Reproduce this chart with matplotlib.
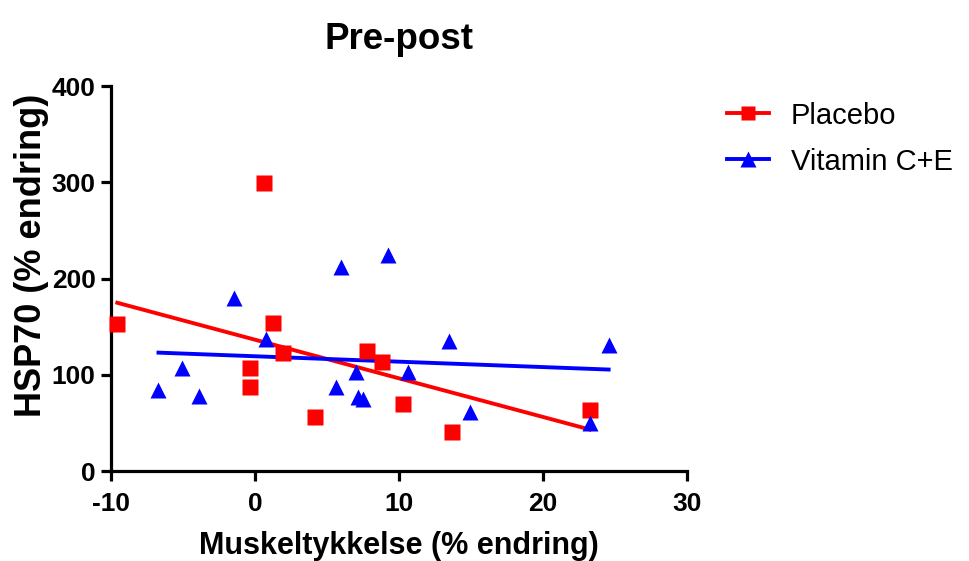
import numpy as np
import matplotlib
matplotlib.use("Agg")
from matplotlib import pyplot as plt
from matplotlib.lines import Line2D

plt.rcParams['font.family'] = ['Liberation Sans', 'DejaVu Sans']
plt.rcParams['axes.unicode_minus'] = False

# Placebo (red squares)
placebo_x = [-9.56, 0.6, 1.25, 1.97, -0.35, -0.35, 4.2, 7.78, 8.8, 10.25, 13.66, 23.24]
placebo_y = [152.4, 299, 154, 122.6, 107, 87.6, 56, 125, 113.6, 69.3, 40.2, 63.7]

# Vitamin C+E (blue triangles)
vit_x = [-6.7, -5.1, -3.87, -1.46, 0.74, 5.6, 7.0, 7.18, 7.48, 9.26, 6.0, 10.6, 13.47, 14.9, 23.24, 24.56]
vit_y = [84, 107, 78, 180, 136.8, 87, 103, 77, 74.5, 224.4, 212, 102.5, 135.4, 61.3, 50.2, 131]

x_ticks = [-10, 0, 10, 20, 30]
y_ticks = [0, 100, 200, 300, 400]

RED = '#FF0000'
BLUE = '#0000FF'

fig = plt.figure(figsize=(9.7, 5.61), dpi=100)
ax = fig.add_axes([0.1144, 0.1604, 0.5938, 0.6863])


def fit_line(xs, ys):
    # lineær regresjon over datapunktenes x-område
    xs = np.array(xs)
    ys = np.array(ys)
    k, m = np.polyfit(xs, ys, 1)
    xx = np.array([xs.min(), xs.max()])
    return xx, k * xx + m


px, py = fit_line(placebo_x, placebo_y)
vx, vy = fit_line(vit_x, vit_y)
ax.plot(px, py, color=RED, lw=2.8, zorder=2)
ax.plot(vx, vy, color=BLUE, lw=2.8, zorder=2)

ax.plot(placebo_x, placebo_y, 's', color=RED, ms=11.5, mec='none', zorder=3, clip_on=False)
ax.plot(vit_x, vit_y, '^', color=BLUE, ms=12, mec='none', zorder=3, clip_on=False)

ax.set_xlim(-10, 30)
ax.set_ylim(0, 400)
ax.set_xticks(x_ticks)
ax.set_yticks(y_ticks)

for s in ['top', 'right']:
    ax.spines[s].set_visible(False)
for s in ['left', 'bottom']:
    ax.spines[s].set_linewidth(2.3)
ax.tick_params(width=2.3, length=7, labelsize=19)
ax.tick_params(axis='x', pad=8)
ax.tick_params(axis='y', pad=4)
for lbl in ax.get_xticklabels() + ax.get_yticklabels():
    lbl.set_fontweight('bold')

ax.set_title('Pre-post', fontsize=26.5, fontweight='bold', pad=27)
ax.set_xlabel('Muskeltykkelse (% endring)', fontsize=22, fontweight='bold', labelpad=11)
ax.set_ylabel('HSP70 (% endring)', fontsize=26, fontweight='bold')
ax.yaxis.set_label_coords(-0.108, 0.56)

handles = [
    Line2D([], [], color=RED, lw=2.8, marker='s', ms=10, mec='none'),
    Line2D([], [], color=BLUE, lw=2.8, marker='^', ms=11, mec='none'),
]
fig.legend(handles, ['Placebo', 'Vitamin C+E'], loc='upper left',
           bbox_to_anchor=(0.749, 0.819), frameon=False, fontsize=21,
           handlelength=1.45, handletextpad=0.75, labelspacing=0.62,
           borderaxespad=0, borderpad=0)

fig.savefig('out.png', dpi=100)
